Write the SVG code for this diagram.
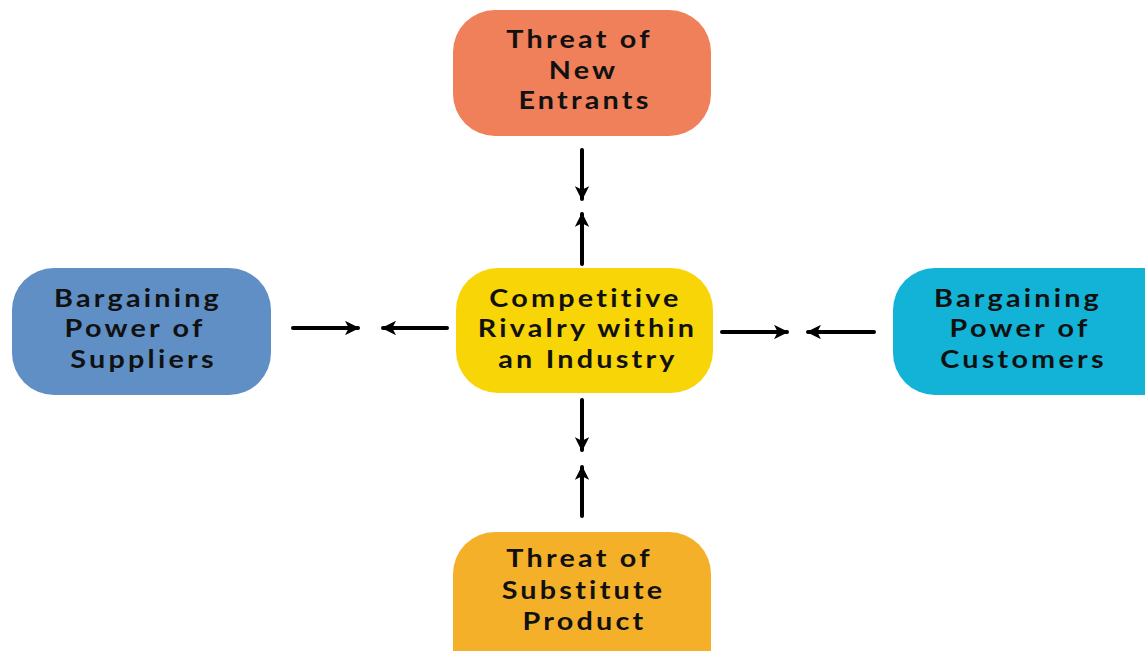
<svg xmlns="http://www.w3.org/2000/svg" width="1145" height="651" viewBox="0 0 1145 651">
<style>
text{font-family:Lato,"Noto Sans",sans-serif;font-weight:bold;font-size:25px;fill:#111;text-anchor:middle;letter-spacing:2.8px}
.c{stroke:#000;stroke-width:4;stroke-linecap:round;fill:none;marker-end:url(#ah)}
</style>
<defs>
<marker id="ah" viewBox="0 0 10 10" refX="9" refY="5" markerWidth="3.6" markerHeight="3.6" orient="auto" markerUnits="strokeWidth">
<path d="M0,0 L10,5 L0,10 L2.5,5 Z" fill="#000"/>
</marker>
</defs>
<rect width="1145" height="651" fill="#fff"/>
<g id="connectors">
<line class="c" x1="582" y1="150" x2="582" y2="199"/>
<line class="c" x1="582" y1="264" x2="582" y2="214"/>
<line class="c" x1="582" y1="400" x2="582" y2="450"/>
<line class="c" x1="582" y1="516" x2="582" y2="467"/>
<line class="c" x1="293" y1="328" x2="358" y2="328"/>
<line class="c" x1="447" y1="328" x2="383" y2="328"/>
<line class="c" x1="722" y1="332" x2="787" y2="332"/>
<line class="c" x1="874" y1="332" x2="808" y2="332"/>
</g>
<g id="new-entrants">
<rect x="453" y="10" width="258" height="126" rx="42" fill="#F0805A"/>
<text transform="translate(579.5,48) scale(1.15,1)">Threat of</text>
<text transform="translate(583.5,79) scale(1.15,1)">New</text>
<text transform="translate(585,109) scale(1.15,1)">Entrants</text>
</g>
<g id="rivalry">
<rect x="456" y="268" width="257" height="125" rx="42" fill="#F8D506"/>
<text transform="translate(585.5,307) scale(1.15,1)">Competitive</text>
<text transform="translate(587.5,337) scale(1.15,1)">Rivalry within</text>
<text transform="translate(588,368) scale(1.15,1)">an Industry</text>
</g>
<g id="suppliers">
<rect x="12" y="268" width="259" height="127" rx="42" fill="#5F8FC4"/>
<text transform="translate(138,307) scale(1.15,1)">Bargaining</text>
<text transform="translate(135,337) scale(1.15,1)">Power of</text>
<text transform="translate(143.5,368) scale(1.15,1)">Suppliers</text>
</g>
<g id="customers">
<rect x="893" y="268" width="300" height="127" rx="42" fill="#12B3D6"/>
<text transform="translate(1018,307) scale(1.15,1)">Bargaining</text>
<text transform="translate(1020,337) scale(1.15,1)">Power of</text>
<text transform="translate(1023.5,368) scale(1.15,1)">Customers</text>
</g>
<g id="substitutes">
<rect x="453" y="532" width="258" height="160" rx="42" fill="#F5B02A"/>
<text transform="translate(579.5,567) scale(1.15,1)">Threat of</text>
<text transform="translate(583.5,599) scale(1.15,1)">Substitute</text>
<text transform="translate(584.5,630) scale(1.15,1)">Product</text>
</g>
</svg>
